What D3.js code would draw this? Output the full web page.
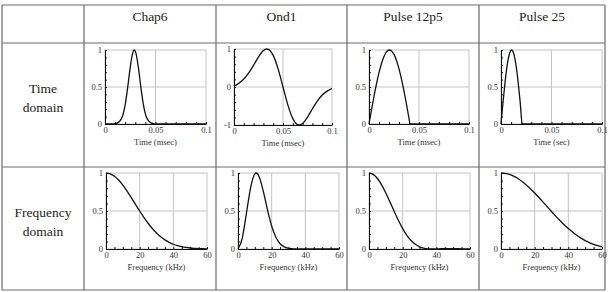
<!DOCTYPE html>
<html><head><meta charset="utf-8">
<script src="https://cdn.jsdelivr.net/npm/d3@7"></script>
<style>body{margin:0;background:#fff}svg{display:block}</style>
</head><body><svg id="c" width="614" height="292"></svg>
<script>
// ---- data ----
const columns = ["Chap6", "Ond1", "Pulse 12p5", "Pulse 25"];
const rowLabels = [["Time", "domain"], ["Frequency", "domain"]];
const timeTicks = [0, 0.05, 0.1];
const timeTickLabels = ["0", "0.05", "0.1"];
const freqTicks = [0, 20, 40, 60];
const timeTitles = ["Time (msec)", "Time (msec)", "Time (msec)", "Time (sec)"];
const freqTitle = "Frequency (kHz)";

const chap6T = [0, 0.005, 0.008, 0.01, 0.0125, 0.015, 0.0175, 0.02, 0.0225, 0.025, 0.0275, 0.029, 0.0305, 0.033, 0.0355, 0.038, 0.0405, 0.043, 0.0455, 0.048, 0.05, 0.055, 0.06, 0.07, 0.08, 0.09, 0.1];
const chap6V = [0, 0, 0.001, 0.004, 0.015, 0.045, 0.112, 0.262, 0.498, 0.768, 0.964, 1, 0.964, 0.768, 0.498, 0.262, 0.112, 0.045, 0.015, 0.004, 0.001, 0, 0, 0, 0, 0, 0];

const ond1T = [0, 0.005, 0.01, 0.015, 0.02, 0.025, 0.03, 0.0335, 0.035, 0.04, 0.045, 0.05, 0.055, 0.06, 0.065, 0.0665, 0.07, 0.075, 0.08, 0.085, 0.09, 0.095, 0.1];
const ond1V = [0.02, 0.1, 0.21, 0.369, 0.574, 0.792, 0.959, 1, 0.992, 0.832, 0.477, 0, -0.477, -0.832, -0.992, -1, -0.959, -0.792, -0.574, -0.369, -0.212, -0.109, -0.04];

const p12T = [0, 0.0025, 0.005, 0.0075, 0.01, 0.0125, 0.015, 0.0175, 0.0205, 0.0225, 0.025, 0.0275, 0.03, 0.0325, 0.035, 0.0375, 0.04, 0.041, 0.05, 0.06, 0.07, 0.08, 0.09, 0.1];
const p12V = [0, 0.19, 0.374, 0.544, 0.693, 0.818, 0.912, 0.974, 1, 0.988, 0.941, 0.859, 0.746, 0.606, 0.443, 0.266, 0.076, 0, 0, 0, 0, 0, 0, 0];

const p25T = [0, 0.002, 0.004, 0.006, 0.008, 0.0105, 0.013, 0.015, 0.017, 0.019, 0.021, 0.03, 0.04, 0.05, 0.06, 0.07, 0.08, 0.09, 0.1];
const p25V = [0, 0.295, 0.563, 0.782, 0.931, 1, 0.93, 0.782, 0.563, 0.295, 0, 0, 0, 0, 0, 0, 0, 0, 0];

const freqF = [0, 2.5, 5, 7.5, 10, 12.5, 15, 17.5, 20, 22.5, 25, 27.5, 30, 32.5, 35, 37.5, 40, 42.5, 45, 47.5, 50, 52.5, 55, 57.5, 60];
const chap6S = [1, 0.989, 0.958, 0.907, 0.841, 0.763, 0.677, 0.588, 0.5, 0.416, 0.339, 0.27, 0.21, 0.16, 0.12, 0.0875, 0.0625, 0.0437, 0.0299, 0.02, 0.0131, 0.0084, 0.0053, 0.0032, 0.002];
const ond1F = [0, 2.5, 5, 7.5, 10, 10.8, 12.5, 15, 17.5, 20, 22.5, 25, 27.5, 30, 32.5, 35, 40, 45, 50, 55, 60];
const ond1S = [0, 0.138, 0.47, 0.809, 0.989, 1, 0.954, 0.762, 0.517, 0.302, 0.154, 0.0686, 0.027, 0.0094, 0.0029, 0.0008, 0, 0, 0, 0, 0];
const p12S = [1, 0.9815, 0.9276, 0.8435, 0.7368, 0.6169, 0.4932, 0.3749, 0.2689, 0.1803, 0.1111, 0.0613, 0.0289, 0.0104, 0.002, 0, 0.0011, 0.0031, 0.0046, 0.005, 0.0044, 0.0033, 0.0019, 0.0009, 0.0002];
const p25S = [1, 0.9954, 0.9815, 0.9587, 0.9276, 0.8889, 0.8435, 0.7925, 0.7368, 0.6778, 0.6169, 0.5549, 0.4932, 0.433, 0.3749, 0.32, 0.2689, 0.2222, 0.1803, 0.1432, 0.1111, 0.0839, 0.0613, 0.0431, 0.0289];

// ---- layout ----
const svg = d3.select("#c");
const colX = [2, 84, 216, 347, 479, 605];
const rowY = [5, 43, 167, 290];
const serif = "'Liberation Serif','Times New Roman',serif";

// table lines
const tbl = svg.append("g").attr("stroke", "#6a6a6a").attr("stroke-width", 1.2).attr("fill", "none");
colX.forEach(x => tbl.append("line").attr("x1", x).attr("x2", x).attr("y1", rowY[0]).attr("y2", rowY[3]));
rowY.forEach(y => tbl.append("line").attr("x1", colX[0]).attr("x2", colX[5]).attr("y1", y).attr("y2", y));

// header texts
columns.forEach((c, i) => {
  svg.append("text").attr("x", (colX[i + 1] + colX[i + 2]) / 2).attr("y", 21)
    .attr("text-anchor", "middle").attr("font-family", serif).attr("font-size", 13.5)
    .attr("fill", "#222").text(c);
});
const rowBase = [[93, 112], [217, 236]];
rowLabels.forEach((lines, r) => {
  lines.forEach((t, k) => {
    svg.append("text").attr("x", (colX[0] + colX[1]) / 2).attr("y", rowBase[r][k])
      .attr("text-anchor", "middle").attr("font-family", serif).attr("font-size", 13.5)
      .attr("fill", "#222").text(t);
  });
});

const timeBoxes = [[105, 206, 50, 124], [234, 332, 49, 125], [369, 469, 50, 124], [501, 602, 50, 124]];
const freqBoxes = [[106, 207, 173, 249], [238, 339, 173, 249], [369, 470, 173, 249], [501, 602, 173, 249]];

function panel(box, xDom, yDom, xs, ys, opt) {
  const [l, r, t, b] = box;
  const x = d3.scaleLinear().domain(xDom).range([l, r]);
  const y = d3.scaleLinear().domain(yDom).range([b, t]);
  const g = svg.append("g");
  // frame
  g.append("rect").attr("x", l).attr("y", t).attr("width", r - l).attr("height", b - t)
    .attr("fill", "none").attr("stroke", "#c4c4c4").attr("stroke-width", 1);
  // grid
  opt.gridX.forEach(v => g.append("line").attr("x1", x(v)).attr("x2", x(v)).attr("y1", t).attr("y2", b)
    .attr("stroke", "#c4c4c4").attr("stroke-width", 1));
  opt.gridY.forEach(v => g.append("line").attr("x1", l).attr("x2", r).attr("y1", y(v)).attr("y2", y(v))
    .attr("stroke", "#c4c4c4").attr("stroke-width", 1));
  // minor ticks axes
  const ax = g.append("g").attr("transform", `translate(0,${b})`)
    .call(d3.axisBottom(x).tickValues(opt.minorX).tickSize(-2).tickSizeOuter(0).tickFormat(""));
  const ay = g.append("g").attr("transform", `translate(${l},0)`)
    .call(d3.axisLeft(y).tickValues(opt.minorY).tickSize(-2).tickSizeOuter(0).tickFormat(""));
  [ax, ay].forEach(a => { a.selectAll("path,line").attr("stroke", "#111").attr("stroke-width", 1); });
  // labels
  const lx = g.append("g").attr("transform", `translate(0,${b})`)
    .call(d3.axisBottom(x).tickValues(opt.labX).tickSize(0).tickPadding(3).tickFormat((d, i) => opt.labXText[i]));
  const ly = g.append("g").attr("transform", `translate(${l},0)`)
    .call(d3.axisLeft(y).tickValues(opt.labY).tickSize(0).tickPadding(3).tickFormat((d, i) => opt.labYText[i]));
  [lx, ly].forEach(a => {
    a.select(".domain").remove();
    a.selectAll("text").attr("font-family", serif).attr("font-size", 8.5).attr("fill", "#333");
  });
  g.append("text").attr("x", (l + r) / 2).attr("y", b + 21).attr("text-anchor", "middle")
    .attr("font-family", serif).attr("font-size", 8.5).attr("fill", "#333").text(opt.title);
  // curve
  const pts = xs.map((v, i) => [v, ys[i]]);
  g.append("path").datum(pts).attr("fill", "none").attr("stroke", "#111").attr("stroke-width", 1.3)
    .attr("d", d3.line().x(d => x(d[0])).y(d => y(d[1])).curve(d3.curveMonotoneX));
}

const minorT = d3.range(0, 11).map(i => i / 100);
const minorF = d3.range(0, 13).map(i => i * 5);
const minorY01 = d3.range(0, 11).map(i => i / 10);
const minorYpm = d3.range(0, 11).map(i => -1 + i / 5);

const timeSeries = [[chap6T, chap6V], [ond1T, ond1V], [p12T, p12V], [p25T, p25V]];
timeSeries.forEach((s, i) => {
  const isOnd = i === 1;
  panel(timeBoxes[i], [0, 0.1], isOnd ? [-1, 1] : [0, 1], s[0], s[1], {
    gridX: [0.05], gridY: isOnd ? [0] : [0.5],
    minorX: minorT, minorY: isOnd ? minorYpm : minorY01,
    labX: timeTicks, labXText: timeTickLabels,
    labY: isOnd ? [-1, 0, 1] : [0, 0.5, 1], labYText: isOnd ? ["-1", "0", "1"] : ["0", "0.5", "1"],
    title: timeTitles[i]
  });
});

const freqSeries = [[freqF, chap6S], [ond1F, ond1S], [freqF, p12S], [freqF, p25S]];
freqSeries.forEach((s, i) => {
  panel(freqBoxes[i], [0, 60], [0, 1], s[0], s[1], {
    gridX: [20, 40], gridY: [0.5],
    minorX: minorF, minorY: minorY01,
    labX: freqTicks, labXText: freqTicks.map(String),
    labY: [0, 0.5, 1], labYText: ["0", "0.5", "1"],
    title: freqTitle
  });
});
</script></body></html>
